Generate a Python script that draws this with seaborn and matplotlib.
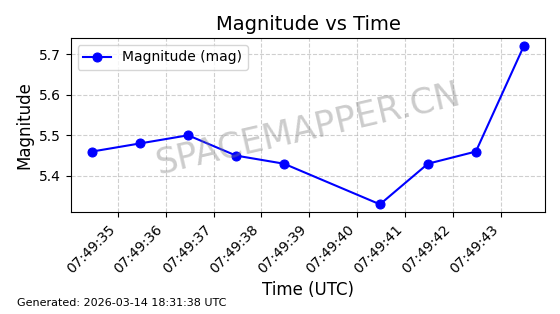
import pandas as pd
import seaborn as sns
import matplotlib
matplotlib.use('Agg')
import matplotlib.pyplot as plt
import matplotlib.dates as mdates

times = ['07:49:34.47', '07:49:35.47', '07:49:36.47', '07:49:37.47', '07:49:38.47',
         '07:49:40.47', '07:49:41.47', '07:49:42.47', '07:49:43.47']
magnitudes = [5.46, 5.48, 5.50, 5.45, 5.43, 5.33, 5.43, 5.46, 5.72]

df = pd.DataFrame({
    'time': pd.to_datetime(['2026-03-14 ' + t for t in times]),
    'mag': magnitudes,
})

fig, ax = plt.subplots(figsize=(5.6, 3.14), dpi=100)
fig.subplots_adjust(left=0.126, right=0.974, top=0.879, bottom=0.324)

sns.lineplot(data=df, x='time', y='mag', ax=ax, color='blue', marker='o',
             markersize=6.5, markeredgecolor='blue', linewidth=1.5,
             label='Magnitude (mag)')

ax.set_title('Magnitude vs Time', fontsize=14)
ax.set_xlabel('Time (UTC)', fontsize=12)
ax.set_ylabel('Magnitude', fontsize=12)
ax.xaxis.set_major_locator(mdates.SecondLocator())
ax.xaxis.set_major_formatter(mdates.DateFormatter('%H:%M:%S'))
plt.setp(ax.get_xticklabels(), rotation=45, ha='right')
ax.set_yticks([5.4, 5.5, 5.6, 5.7])
ax.grid(True, linestyle='--', alpha=0.6)
ax.legend(loc='upper left')

# watermark
ax.text(0.5, 0.48, 'SPACEMAPPER.CN', transform=ax.transAxes, fontsize=25,
        color='gray', alpha=0.4, rotation=13, ha='center', va='center')

fig.text(0.03, 0.025, 'Generated: 2026-03-14 18:31:38 UTC', fontsize=8)

fig.savefig('out.png', dpi=100)
